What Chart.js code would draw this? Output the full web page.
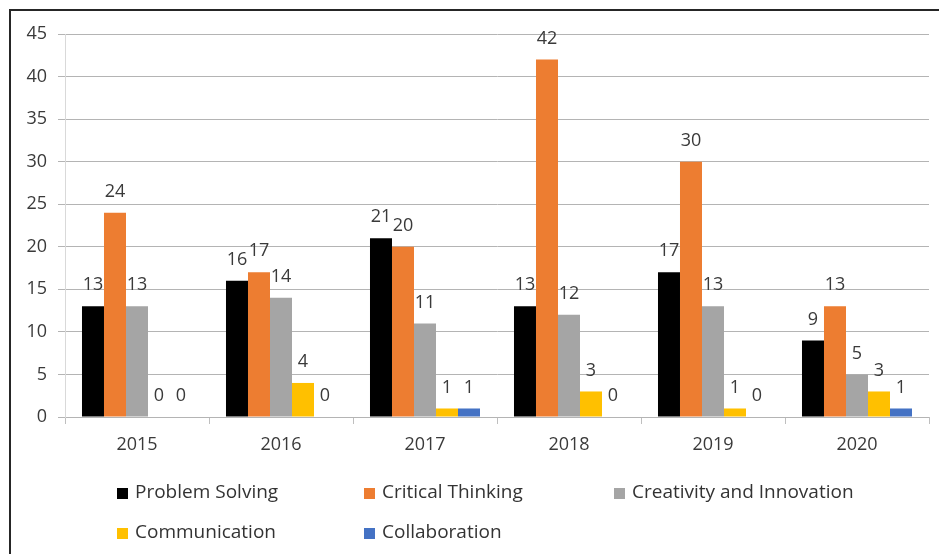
<!DOCTYPE html>
<html>
<head>
<meta charset="utf-8">
<script src="https://cdn.jsdelivr.net/npm/chart.js@4"></script>
<style>
    body { margin: 0; background: #fff; overflow: hidden; }
    #wrap { position: relative; width: 939px; height: 554px; }
    #frame { position: absolute; left: 9px; top: 9px; width: 1000px; height: 600px;
             border-top: 2px solid #262626; border-left: 2px solid #262626; }
    #skillsChart { position: absolute; left: 0; top: 0; }
    .legend-item { position: absolute; font-family: "Open Sans", sans-serif; font-size: 19px;
                   color: #333; white-space: nowrap; line-height: 22px; }
    .legend-box { display: inline-block; width: 11px; height: 11px; margin-right: 7px;
                  vertical-align: -1px; }
</style>
</head>
<body>
<div id="wrap">
    <div id="frame"></div>
    <canvas id="skillsChart" width="939" height="554"></canvas>
    <div id="legend"></div>
</div>
<script>
// data
const years = ['2015', '2016', '2017', '2018', '2019', '2020'];
const seriesNames = ['Problem Solving', 'Critical Thinking', 'Creativity and Innovation', 'Communication', 'Collaboration'];
const problemSolving = [13, 16, 21, 13, 17, 9];
const criticalThinking = [24, 17, 20, 42, 30, 13];
const creativity = [13, 14, 11, 12, 13, 5];
const communication = [0, 4, 1, 3, 1, 3];
const collaboration = [0, 0, 1, 0, 0, 1];
const yTicks = [0, 5, 10, 15, 20, 25, 30, 35, 40, 45];

const seriesValues = [problemSolving, criticalThinking, creativity, communication, collaboration];
const seriesColors = ['#000000', '#ED7D31', '#A5A5A5', '#FFC000', '#4472C4'];

const font = { family: '"Open Sans", sans-serif', size: 18 };
const textColor = '#3a3a3a';

function buildDatasets() {
    const sets = [];
    for (let i = 0; i < seriesNames.length; i++) {
        sets.push({
            label: seriesNames[i],
            data: seriesValues[i],
            backgroundColor: seriesColors[i],
            borderWidth: 0
        });
    }
    return sets;
}

// value labels above every bar
const barLabels = {
    id: 'barLabels',
    afterDatasetsDraw(chart) {
        const ctx = chart.ctx;
        ctx.save();
        ctx.font = font.size + 'px ' + font.family;
        ctx.fillStyle = textColor;
        ctx.textAlign = 'center';
        ctx.textBaseline = 'middle';
        chart.data.datasets.forEach(function(ds, i) {
            chart.getDatasetMeta(i).data.forEach(function(bar, j) {
                ctx.fillText(String(ds.data[j]), bar.x, bar.y - 21);
            });
        });
        ctx.restore();
    }
};

new Chart(document.getElementById('skillsChart'), {
    type: 'bar',
    data: {
        labels: years,
        datasets: buildDatasets()
    },
    options: {
        responsive: false,
        animation: false,
        layout: { padding: { left: 0, top: 34, right: 10, bottom: 77 } },
        datasets: {
            bar: { categoryPercentage: 0.764, barPercentage: 1.0 }
        },
        plugins: {
            legend: { display: false },
            tooltip: { enabled: false }
        },
        scales: {
            x: {
                grid: {
                    offset: true,
                    drawOnChartArea: false,
                    drawTicks: true,
                    tickLength: 7,
                    color: '#bfbfbf'
                },
                border: { display: false },
                ticks: { font: font, color: textColor, padding: 10 },
                afterFit: function(scale) { scale.height = 60; }
            },
            y: {
                min: 0,
                max: 45,
                afterBuildTicks: function(scale) {
                    scale.ticks = yTicks.map(function(v) { return { value: v }; });
                },
                grid: {
                    color: '#b4b4b4',
                    drawTicks: true,
                    tickLength: 7
                },
                border: { display: true, color: '#d9d9d9' },
                ticks: { font: font, color: textColor, padding: 11 },
                afterFit: function(scale) { scale.width = 65; }
            }
        }
    },
    plugins: [barLabels]
});

// legend laid out in columns like the original
const legendCols = [117, 364, 614];
const legendRows = [491, 531];
const legendEl = document.getElementById('legend');
for (let i = 0; i < seriesNames.length; i++) {
    const item = document.createElement('div');
    item.className = 'legend-item';
    item.style.left = legendCols[i % 3] + 'px';
    item.style.top = (legendRows[Math.floor(i / 3)] - 11) + 'px';
    const box = document.createElement('span');
    box.className = 'legend-box';
    box.style.background = seriesColors[i];
    item.appendChild(box);
    item.appendChild(document.createTextNode(seriesNames[i]));
    legendEl.appendChild(item);
}
</script>
</body>
</html>
